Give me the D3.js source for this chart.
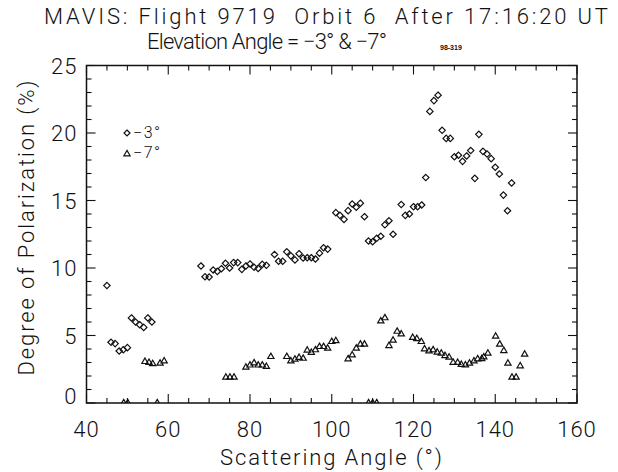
<!DOCTYPE html>
<html>
<head>
<meta charset="utf-8">
<script src="https://cdn.jsdelivr.net/npm/d3@7"></script>
<style>
  body { margin: 0; background: #fff; }
  svg text { font-family: Roboto, "DejaVu Sans", sans-serif; font-weight: 300; fill: #111; }
</style>
</head>
<body>
<div id="vis"></div>
<script>
// elevation -3 deg (diamonds)
var angle3 = [45, 46, 47, 48, 49, 50, 51, 52, 53, 54, 55, 56,
  68, 69, 70, 71, 72, 73, 74, 75, 76, 77, 78, 79, 80, 81, 82, 83, 84,
  86, 87, 88, 89, 90, 91, 92, 93, 94, 95, 96, 97, 98, 99,
  101, 102, 103, 104, 105, 106, 107, 108, 109, 110, 111, 112, 113, 114, 115,
  117, 118, 119, 120, 121, 122, 123, 124, 125, 126, 127, 128, 129, 130,
  131, 132, 133, 134, 135, 136, 137, 138, 139, 140, 141, 142, 143, 144];
var pol3 = [8.7, 4.5, 4.4, 3.85, 3.95, 4.1, 6.3, 6.0, 5.8, 5.6, 6.3, 6.0,
  10.15, 9.35, 9.33, 9.85, 9.75, 9.95, 10.35, 10.0, 10.4, 10.4, 9.9, 10.15, 10.3, 10.05, 9.97, 10.27, 10.2,
  11.0, 10.5, 10.5, 11.2, 10.9, 10.6, 11.06, 10.74, 10.76, 10.76, 10.67, 11.1, 11.5, 11.4,
  14.1, 13.9, 13.6, 14.25, 14.74, 14.5, 14.8, 13.8, 12.0, 11.95, 12.2, 12.35, 13.2, 13.5, 12.5,
  14.7, 13.9, 14.0, 14.54, 14.54, 14.67, 16.7, 21.6, 22.4, 22.8, 20.2, 19.6, 19.6, 18.24,
  18.35, 17.9, 18.3, 18.7, 16.64, 19.9, 18.64, 18.44, 18.1, 17.46, 16.96, 15.4, 14.24, 16.3];

// elevation -7 deg (triangles)
var angle7 = [49.1, 50.1, 54.3, 55.3, 56.2, 57.3, 58, 59,
  74.1, 75.1, 76.1, 79, 80, 81, 82, 83, 84, 85.1,
  89, 90, 91, 92, 93, 94, 95, 96, 97, 98, 99, 100, 101,
  104, 105, 106, 107, 108, 109, 110, 111, 112, 113, 114, 115, 116, 117,
  119.8, 120.8, 121.9, 122.7, 123.8, 124.8, 125.8, 126.8, 127.7, 128.7, 129.7,
  130.8, 131.7, 132.7, 133.7, 134.8, 135.7, 136.7, 137.2, 138.2,
  140.1, 141.1, 142.1, 143.1, 144.1, 145.1, 146.1, 147.2];
var pol7 = [0, 0, 3.06, 2.99, 2.9, 0, 2.94, 3.1,
  1.9, 1.9, 1.9, 2.64, 2.8, 2.96, 2.8, 2.8, 2.7, 3.43,
  3.43, 3.1, 3.23, 3.36, 3.3, 3.9, 3.73, 3.93, 4.17, 4.17, 4.05, 4.54, 4.6,
  3.26, 3.55, 4.05, 4.35, 4.35, 0, 0, 0, 6.07, 6.3, 4.24, 4.64, 5.3, 5.1,
  4.84, 4.76, 4.54, 4.0, 3.85, 3.93, 3.75, 3.68, 3.5, 3.38, 3.0,
  2.99, 2.84, 2.81, 2.94, 3.1, 3.26, 3.28, 3.4, 3.68,
  4.94, 4.35, 3.87, 2.94, 1.9, 1.9, 2.74, 3.6];

var xTicks = [40, 60, 80, 100, 120, 140, 160];
var yTicks = [0, 5, 10, 15, 20, 25];
var legendLabels = ['\u22123\u00b0', '\u22127\u00b0'];

var width = 618, height = 472;
var margin = { left: 86.5, right: 41, top: 65.5, bottom: 69 };

var svg = d3.select('#vis').append('svg')
  .attr('width', width)
  .attr('height', height);

var x = d3.scaleLinear().domain([40, 160]).range([margin.left, width - margin.right]);
var y = d3.scaleLinear().domain([0, 25]).range([height - margin.bottom, margin.top]);

svg.append('clipPath').attr('id', 'plotclip')
  .append('rect')
  .attr('x', x(40)).attr('y', y(25))
  .attr('width', x(160) - x(40)).attr('height', y(0) - y(25));

// ticks, inward on all four sides
function drawTicks() {
  var g = svg.append('g').attr('stroke', '#111').attr('stroke-width', 1.1);
  d3.range(40, 161, 5).forEach(function (v) {
    var len = v % 20 === 0 ? 9 : 5;
    g.append('line').attr('x1', x(v)).attr('x2', x(v)).attr('y1', y(0)).attr('y2', y(0) - len);
    g.append('line').attr('x1', x(v)).attr('x2', x(v)).attr('y1', y(25)).attr('y2', y(25) + len);
  });
  d3.range(0, 26, 1).forEach(function (v) {
    var len = v % 5 === 0 ? 9 : 5;
    g.append('line').attr('y1', y(v)).attr('y2', y(v)).attr('x1', x(40)).attr('x2', x(40) + len);
    g.append('line').attr('y1', y(v)).attr('y2', y(v)).attr('x1', x(160)).attr('x2', x(160) - len);
  });
}
drawTicks();

svg.append('rect')
  .attr('x', x(40)).attr('y', y(25))
  .attr('width', x(160) - x(40)).attr('height', y(0) - y(25))
  .attr('fill', 'none').attr('stroke', '#111').attr('stroke-width', 1.5);

// tick labels
svg.selectAll('.xlab').data(xTicks).enter().append('text')
  .attr('class', 'xlab')
  .attr('x', function (d) { return x(d); })
  .attr('y', y(0) + 34)
  .attr('text-anchor', 'middle')
  .style('font-size', '22px')
  .style('letter-spacing', '1px')
  .text(function (d) { return d; });

svg.selectAll('.ylab').data(yTicks).enter().append('text')
  .attr('class', 'ylab')
  .attr('x', x(40) - 9)
  .attr('y', function (d) { return y(d) + 8 - (d === 0 ? 7 : 0); })
  .attr('text-anchor', 'end')
  .style('font-size', '22px')
  .style('letter-spacing', '1px')
  .text(function (d) { return d; });

// axis titles
svg.append('text')
  .attr('x', 331)
  .attr('y', 465)
  .attr('text-anchor', 'middle')
  .attr('textLength', 222)
  .attr('lengthAdjust', 'spacing')
  .style('font-size', '22px')
  .text('Scattering Angle (\u00b0)');

svg.append('text')
  .attr('transform', 'translate(34,228) rotate(-90)')
  .attr('text-anchor', 'middle')
  .attr('textLength', 295)
  .attr('lengthAdjust', 'spacing')
  .style('font-size', '22px')
  .text('Degree of Polarization (%)');

// title
svg.append('text')
  .attr('x', 326).attr('y', 24)
  .attr('text-anchor', 'middle')
  .attr('textLength', 564)
  .attr('lengthAdjust', 'spacing')
  .style('font-size', '22px')
  .attr('xml:space', 'preserve')
  .style('white-space', 'pre')
  .text('MAVIS: Flight 9719  Orbit 6  After 17:16:20 UT');

svg.append('text')
  .attr('x', 267).attr('y', 49)
  .attr('text-anchor', 'middle')
  .attr('textLength', 240)
  .attr('lengthAdjust', 'spacing')
  .style('font-size', '22px')
  .text('Elevation Angle = \u22123\u00b0 & \u22127\u00b0');

svg.append('text')
  .attr('x', 440).attr('y', 50)
  .style('font-size', '7px')
  .style('font-weight', '700')
  .style('font-family', 'Liberation Sans, sans-serif')
  .text('98-319');

// markers
function diamond(r) {
  return 'M0,' + (-r) + 'L' + r + ',0L0,' + r + 'L' + (-r) + ',0Z';
}
var tri = d3.symbol().type(d3.symbolTriangle).size(17);

var plot = svg.append('g').attr('clip-path', 'url(#plotclip)');

plot.selectAll('.m3').data(d3.zip(angle3, pol3)).enter().append('path')
  .attr('class', 'm3')
  .attr('d', diamond(3.2))
  .attr('transform', function (d) { return 'translate(' + x(d[0]) + ',' + y(d[1]) + ')'; })
  .attr('fill', 'none').attr('stroke', '#111').attr('stroke-width', 1.2);

plot.selectAll('.m7').data(d3.zip(angle7, pol7)).enter().append('path')
  .attr('class', 'm7')
  .attr('d', tri)
  .attr('transform', function (d) { return 'translate(' + x(d[0]) + ',' + y(d[1]) + ')'; })
  .attr('fill', 'none').attr('stroke', '#111').attr('stroke-width', 1.2);

// legend
var legend = svg.append('g');
legend.append('path')
  .attr('d', diamond(3))
  .attr('transform', 'translate(127,133)')
  .attr('fill', 'none').attr('stroke', '#111').attr('stroke-width', 1.2);
legend.append('path')
  .attr('d', d3.symbol().type(d3.symbolTriangle).size(17))
  .attr('transform', 'translate(127,154)')
  .attr('fill', 'none').attr('stroke', '#111').attr('stroke-width', 1.2);
legend.selectAll('.lg').data(legendLabels).enter().append('text')
  .attr('x', 133)
  .attr('y', function (d, i) { return 138 + i * 20; })
  .style('font-size', '16px')
  .style('letter-spacing', '1.5px')
  .text(function (d) { return d; });
</script>
</body>
</html>
